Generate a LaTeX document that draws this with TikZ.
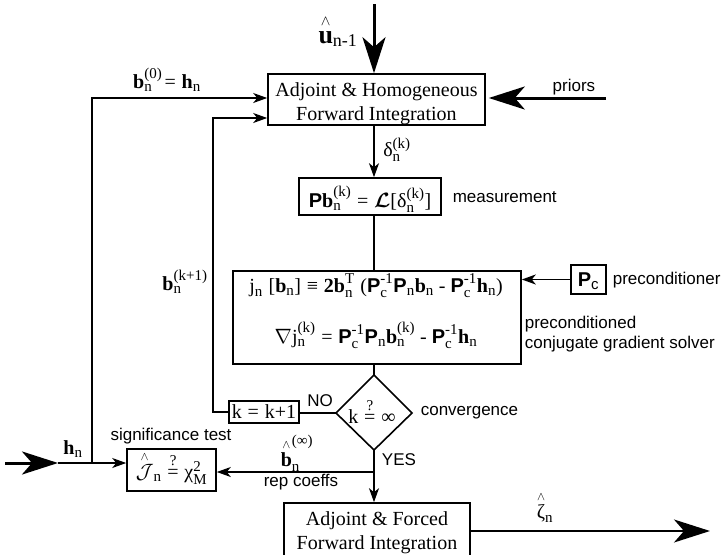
\documentclass[tikz,border=0pt]{standalone}
\usepackage{amsmath,amssymb}
\usepackage{fontspec}
\setmainfont{Liberation Serif}
\setsansfont{Liberation Sans}
\usetikzlibrary{arrows.meta}
\DeclareMathSizes{20}{20}{15}{12}
\DeclareMathSizes{26}{26}{18}{14}
\newcommand\Pb{\textsf{\textbf{P}}}
\newcommand\bb{\textbf{b}}
\newcommand\hb{\textbf{h}}
\newcommand\myeq{\mathrel{\text{=}}}
\newcommand\qeq{\mathrel{\overset{\text{?}}{\text{=}}}}
\newcommand\hatx[1]{\overset{\scriptscriptstyle\wedge}{#1}}
\begin{document}
\begin{tikzpicture}[x=1pt,y=-1pt,line width=1.6pt,
  box/.style={draw,line width=1.6pt,inner sep=0pt},
  tms/.style={font=\fontsize{20}{24}\selectfont,inner sep=0pt},
  hel/.style={font=\sffamily\fontsize{17}{20}\selectfont,inner sep=0pt},
  sarrow/.style={-{Stealth[length=14pt,width=10pt,inset=4pt]}},
  barrow/.style={-{Stealth[length=36pt,width=23pt,inset=10pt]}}]
\useasboundingbox (0,0) rectangle (724,555);
\coordinate (axis) at (374,0);
% top box
\node[box,minimum width=217pt,minimum height=51pt] (top) at (376.5,99.5) {};
\node[tms,align=center] (toptxt) at (376.5,104) {Adjoint \& Homogeneous\\Forward Integration};
% measurement box
\node[box,minimum width=142pt,minimum height=37pt] (meas) at (370,196.5) {};
\node[tms,anchor=base] (meastxt) at (370,207) {$\Pb\bb_{\text{n}}^{\text{(k)}} \myeq \boldsymbol{\mathcal{L}}\text{[δ}_{\text{n}}^{\text{(k)}}\text{]}$};
\node[hel,anchor=west] (measlbl) at (452,197) {measurement};
% solver box
\node[box,minimum width=288pt,minimum height=93pt] (solv) at (377,317.5) {};
\node[tms,anchor=base] (sl1) at (376,292) {$\text{j}_{\text{n}}\;\text{[}\bb_{\text{n}}\text{]} \mathrel{\text{≡}} \textbf{2}\bb_{\text{n}}^{\text{T}}\;\text{(}\Pb_{\text{c}}^{\text{-1}}\Pb_{\text{n}}\bb_{\text{n}}\text{ - }\Pb_{\text{c}}^{\text{-1}}\hb_{\text{n}}\text{)}$};
\node[tms,anchor=base] (sl2) at (376,343) {$\nabla\text{j}_{\text{n}}^{\text{(k)}} \myeq \Pb_{\text{c}}^{\text{-1}}\Pb_{\text{n}}\bb_{\text{n}}^{\text{(k)}}\text{ - }\Pb_{\text{c}}^{\text{-1}}\hb_{\text{n}}$};
% preconditioner
\node[box,minimum width=35pt,minimum height=29pt] (pc) at (588.5,279.5) {};
\node[tms] (pctxt) at (588.5,281) {$\Pb_{\textsf{c}}$};
\node[hel,anchor=west] (pclbl) at (612,280) {preconditioner};
\node[hel,anchor=west,align=left] (pcglbl) at (524,334) {preconditioned\\conjugate gradient solver};
% diamond
\coordinate (dT) at (374,375);
\coordinate (dR) at (412,413);
\coordinate (dB) at (374,450);
\coordinate (dL) at (336,413);
\draw[line width=1.6pt] (dT)--(dR)--(dB)--(dL)--cycle;
\node[tms] (dtxt) at (372,411) {$\text{k} \qeq \text{∞}$};
\node[hel,anchor=west] (convlbl) at (420,413) {convergence};
% k box
\node[box,minimum width=70pt,minimum height=22pt] (kb) at (264,412) {};
\node[tms] (kbtxt) at (264,412) {$\text{k} \myeq \text{k+1}$};
\node[hel] (nolbl) at (320,401) {NO};
% significance box
\node[box,minimum width=89pt,minimum height=42pt] (sig) at (171.5,470) {};
\node[tms] (sigtxt) at (171.5,468) {$\hatx{\mathcal{J}}_{\text{n}} \qeq \text{χ}_{\text{M}}^{\text{2}}$};
\node[hel] (siglbl) at (171,436) {significance test};
% bottom box
\begin{scope}
\clip (0,0) rectangle (724,555);
\node[box,minimum width=186pt,minimum height=70pt] (bot) at (377,538) {};
\end{scope}
\node[tms,align=center] (bottxt) at (377,533) {Adjoint \& Forced\\Forward Integration};
% coordinates
\coordinate (c1) at (92,98);
\coordinate (hj) at (92,463);
\coordinate (c2) at (213,118);
\coordinate (hs) at (5,463);
\coordinate (hm) at (58,463);
\coordinate (rj) at (374,472);
\coordinate (ts) at (374,4);
\coordinate (ps) at (606,98);
\coordinate (ze) at (710,531);
% connectors
\draw[barrow,line width=3pt] (ts) -- (ts |- top.north);
\draw[barrow,line width=3pt,shorten >=3pt] (ps) -- (ps -| top.east);
\draw[sarrow] (hj) -- (c1) -- (c1 -| top.west);
\draw[sarrow] (kb.west) -- (kb.west -| c2) -- (c2) -- (c2 -| top.west);
\draw[sarrow] (top.south -| axis) -- (meas.north -| axis);
\draw (meas.south -| axis) -- (solv.north -| axis);
\draw (solv.south -| axis) -- (dT);
\draw[sarrow] (pc.west) -- (pc.west -| solv.east);
\draw (dL) -- (dL -| kb.east);
\draw[sarrow] (dB) -- (dB |- bot.north);
\draw[sarrow] (rj) -- (rj -| sig.east);
\draw[barrow,line width=3pt] (hs) -- (hm);
\draw[sarrow] (hm) -- (hm -| sig.west);
\draw[barrow] (bot.east |- ze) -- (ze);
% labels
\node[inner sep=0pt,font=\fontsize{26}{30}\selectfont] (ulbl) at (338,31) {$\hatx{\textbf{u}}_{\text{n-1}}$};
\node[hel] (priorslbl) at (574,87) {priors};
\node[tms] (b0lbl) at (167,80) {$\bb_{\text{n}}^{\text{(0)}}\!\myeq \hb_{\text{n}}$};
\node[tms] (dlbl) at (397,150) {$\text{δ}_{\text{n}}^{\text{(k)}}$};
\node[tms] (bk1lbl) at (185,282) {$\bb_{\text{n}}^{\text{(k+1)}}$};
\node[tms] (hlbl) at (73,449) {$\hb_{\text{n}}$};
\node[tms] (binflbl) at (297,453) {$\hatx{\textbf{b}}_{\text{n}}^{\text{(∞)}}$};
\node[hel] (replbl) at (301,482) {rep coeffs};
\node[hel] (yeslbl) at (399,460) {YES};
\node[tms] (zlbl) at (545,507) {$\hatx{\text{ζ}}_{\text{n}}$};
\end{tikzpicture}
\end{document}
